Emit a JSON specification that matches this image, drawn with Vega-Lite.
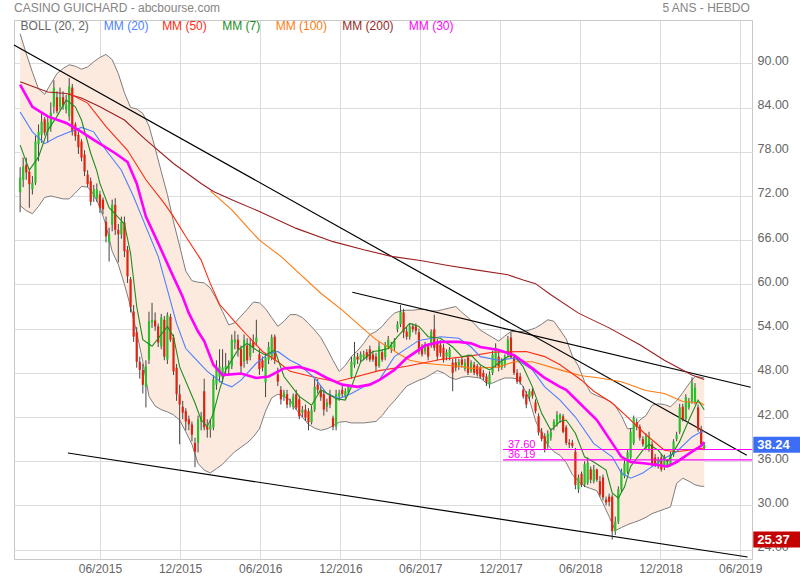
{
"$schema": "https://vega.github.io/schema/vega-lite/v6.json",
"width": 738, "height": 539,
"autosize": {"type": "none"},
"padding": {"left": 14, "top": 20, "right": 48, "bottom": 21},
"background": "white",
"config": {"view": {"stroke": "#c8c8c8", "strokeWidth": 1}, "font": "Liberation Sans", "text": {"font": "Liberation Sans"}, "scale": {"continuousPadding": 0}},
"datasets": {
"candles": [
{"d":"2014-12-01","o":72.5,"h":75.9,"l":69.8,"c":74.5},
{"d":"2014-12-08","o":74.2,"h":77.2,"l":73.2,"c":76.0},
{"d":"2014-12-15","o":76.2,"h":77.2,"l":74.2,"c":75.2},
{"d":"2014-12-22","o":75.3,"h":75.7,"l":70.4,"c":73.6},
{"d":"2014-12-29","o":72.9,"h":74.7,"l":72.2,"c":73.8},
{"d":"2015-01-05","o":73.8,"h":80.2,"l":73.5,"c":79.4},
{"d":"2015-01-12","o":79.0,"h":81.7,"l":76.7,"c":80.7},
{"d":"2015-01-19","o":80.3,"h":83.2,"l":79.2,"c":82.1},
{"d":"2015-01-26","o":82.4,"h":82.7,"l":80.2,"c":80.6},
{"d":"2015-02-02","o":80.7,"h":82.7,"l":79.2,"c":82.0},
{"d":"2015-02-09","o":81.4,"h":84.7,"l":80.7,"c":83.3},
{"d":"2015-02-16","o":84.1,"h":87.7,"l":83.2,"c":86.7},
{"d":"2015-02-23","o":85.4,"h":86.2,"l":83.2,"c":83.5},
{"d":"2015-03-02","o":84.1,"h":86.7,"l":83.7,"c":85.4},
{"d":"2015-03-09","o":85.4,"h":86.2,"l":83.7,"c":84.3},
{"d":"2015-03-16","o":83.7,"h":85.7,"l":83.2,"c":84.4},
{"d":"2015-03-23","o":82.8,"h":88.0,"l":82.2,"c":86.9},
{"d":"2015-03-30","o":86.7,"h":87.2,"l":80.2,"c":80.7},
{"d":"2015-04-06","o":81.7,"h":82.0,"l":79.5,"c":80.1},
{"d":"2015-04-13","o":80.3,"h":80.7,"l":77.7,"c":78.6},
{"d":"2015-04-20","o":79.4,"h":79.7,"l":76.7,"c":77.2},
{"d":"2015-04-27","o":77.6,"h":78.2,"l":74.7,"c":75.3},
{"d":"2015-05-04","o":74.9,"h":75.5,"l":73.2,"c":73.6},
{"d":"2015-05-11","o":74.0,"h":74.5,"l":70.7,"c":71.2},
{"d":"2015-05-18","o":71.9,"h":73.5,"l":71.2,"c":72.9},
{"d":"2015-05-25","o":71.6,"h":73.7,"l":71.2,"c":72.9},
{"d":"2015-06-01","o":72.2,"h":72.7,"l":69.7,"c":70.4},
{"d":"2015-06-08","o":71.5,"h":71.8,"l":69.5,"c":70.2},
{"d":"2015-06-15","o":68.5,"h":69.2,"l":65.7,"c":66.5},
{"d":"2015-06-22","o":65.7,"h":67.7,"l":63.1,"c":66.8},
{"d":"2015-06-29","o":68.1,"h":71.5,"l":67.2,"c":70.8},
{"d":"2015-07-06","o":70.8,"h":71.7,"l":66.7,"c":67.4},
{"d":"2015-07-13","o":67.4,"h":68.2,"l":63.0,"c":66.8},
{"d":"2015-07-20","o":66.8,"h":69.2,"l":66.2,"c":68.5},
{"d":"2015-07-27","o":68.4,"h":69.2,"l":63.7,"c":64.5},
{"d":"2015-08-03","o":64.7,"h":65.2,"l":60.2,"c":61.1},
{"d":"2015-08-10","o":60.7,"h":61.0,"l":56.2,"c":56.9},
{"d":"2015-08-17","o":56.3,"h":57.2,"l":52.2,"c":52.9},
{"d":"2015-08-24","o":53.5,"h":54.2,"l":48.7,"c":49.5},
{"d":"2015-08-31","o":49.5,"h":50.2,"l":47.2,"c":48.4},
{"d":"2015-09-07","o":48.4,"h":49.2,"l":45.2,"c":46.4},
{"d":"2015-09-14","o":46.1,"h":49.7,"l":43.3,"c":48.9},
{"d":"2015-09-21","o":49.8,"h":56.3,"l":49.2,"c":55.0},
{"d":"2015-09-28","o":54.8,"h":57.5,"l":54.1,"c":55.2},
{"d":"2015-10-05","o":55.1,"h":56.2,"l":53.7,"c":54.3},
{"d":"2015-10-12","o":54.3,"h":54.7,"l":51.5,"c":52.1},
{"d":"2015-10-19","o":51.6,"h":56.0,"l":51.2,"c":55.5},
{"d":"2015-10-26","o":55.2,"h":55.7,"l":49.7,"c":50.2},
{"d":"2015-11-02","o":49.8,"h":56.2,"l":49.2,"c":55.8},
{"d":"2015-11-09","o":55.6,"h":56.0,"l":52.2,"c":52.5},
{"d":"2015-11-16","o":52.8,"h":53.2,"l":47.7,"c":48.2},
{"d":"2015-11-23","o":48.7,"h":49.2,"l":44.2,"c":45.1},
{"d":"2015-11-30","o":45.1,"h":46.4,"l":38.3,"c":43.7},
{"d":"2015-12-07","o":43.4,"h":44.2,"l":41.7,"c":42.6},
{"d":"2015-12-14","o":42.8,"h":43.2,"l":40.2,"c":41.4},
{"d":"2015-12-21","o":41.7,"h":42.2,"l":40.2,"c":41.0},
{"d":"2015-12-28","o":41.0,"h":41.4,"l":38.7,"c":39.6},
{"d":"2016-01-04","o":38.5,"h":39.2,"l":35.2,"c":37.3},
{"d":"2016-01-11","o":38.5,"h":42.2,"l":37.2,"c":41.7},
{"d":"2016-01-18","o":41.4,"h":42.7,"l":40.2,"c":42.1},
{"d":"2016-01-25","o":45.5,"h":47.2,"l":40.2,"c":40.6},
{"d":"2016-02-01","o":40.7,"h":41.7,"l":39.2,"c":40.3},
{"d":"2016-02-08","o":40.3,"h":41.7,"l":39.2,"c":40.9},
{"d":"2016-02-15","o":40.6,"h":47.7,"l":40.2,"c":47.1},
{"d":"2016-02-22","o":46.4,"h":49.7,"l":45.7,"c":48.5},
{"d":"2016-02-29","o":47.5,"h":51.2,"l":46.7,"c":48.9},
{"d":"2016-03-07","o":47.4,"h":51.2,"l":46.7,"c":48.7},
{"d":"2016-03-14","o":48.5,"h":50.7,"l":47.7,"c":48.9},
{"d":"2016-03-21","o":48.5,"h":49.7,"l":47.7,"c":48.9},
{"d":"2016-03-28","o":48.9,"h":53.2,"l":48.5,"c":52.5},
{"d":"2016-04-04","o":52.1,"h":53.7,"l":51.2,"c":52.5},
{"d":"2016-04-11","o":52.5,"h":53.2,"l":50.2,"c":51.2},
{"d":"2016-04-18","o":51.2,"h":51.7,"l":47.7,"c":48.9},
{"d":"2016-04-25","o":49.5,"h":53.2,"l":48.7,"c":52.5},
{"d":"2016-05-02","o":51.7,"h":52.7,"l":49.2,"c":49.7},
{"d":"2016-05-09","o":50.2,"h":52.7,"l":49.7,"c":52.0},
{"d":"2016-05-16","o":52.2,"h":53.2,"l":50.7,"c":51.5},
{"d":"2016-05-23","o":52.1,"h":55.2,"l":51.7,"c":52.8},
{"d":"2016-05-30","o":50.5,"h":51.2,"l":47.7,"c":48.5},
{"d":"2016-06-06","o":49.7,"h":50.2,"l":48.2,"c":48.7},
{"d":"2016-06-13","o":46.7,"h":50.7,"l":44.7,"c":50.1},
{"d":"2016-06-20","o":49.8,"h":52.2,"l":49.2,"c":51.5},
{"d":"2016-06-27","o":50.1,"h":53.2,"l":49.7,"c":52.8},
{"d":"2016-07-04","o":52.9,"h":53.2,"l":49.2,"c":49.8},
{"d":"2016-07-11","o":47.8,"h":48.7,"l":46.2,"c":46.8},
{"d":"2016-07-18","o":45.7,"h":46.2,"l":43.7,"c":44.4},
{"d":"2016-07-25","o":44.7,"h":45.7,"l":44.2,"c":45.3},
{"d":"2016-08-01","o":45.1,"h":45.7,"l":43.2,"c":43.7},
{"d":"2016-08-08","o":43.7,"h":44.5,"l":43.3,"c":44.0},
{"d":"2016-08-15","o":43.4,"h":45.2,"l":43.0,"c":44.8},
{"d":"2016-08-22","o":45.1,"h":45.7,"l":43.0,"c":43.3},
{"d":"2016-08-29","o":44.4,"h":44.9,"l":41.7,"c":42.1},
{"d":"2016-09-05","o":42.6,"h":43.5,"l":42.0,"c":43.0},
{"d":"2016-09-12","o":43.0,"h":43.7,"l":41.5,"c":41.9},
{"d":"2016-09-19","o":42.8,"h":43.2,"l":40.2,"c":41.3},
{"d":"2016-09-26","o":41.3,"h":43.5,"l":41.0,"c":43.0},
{"d":"2016-10-03","o":43.0,"h":47.2,"l":42.7,"c":46.1},
{"d":"2016-10-10","o":46.4,"h":47.2,"l":45.2,"c":45.7},
{"d":"2016-10-17","o":45.7,"h":46.2,"l":44.2,"c":44.7},
{"d":"2016-10-24","o":45.1,"h":45.7,"l":42.2,"c":43.0},
{"d":"2016-10-31","o":43.4,"h":44.5,"l":42.7,"c":44.0},
{"d":"2016-11-07","o":45.1,"h":45.7,"l":43.2,"c":43.7},
{"d":"2016-11-14","o":41.9,"h":42.2,"l":40.2,"c":40.7},
{"d":"2016-11-21","o":40.7,"h":45.7,"l":40.2,"c":45.1},
{"d":"2016-11-28","o":44.8,"h":45.7,"l":44.2,"c":45.3},
{"d":"2016-12-05","o":45.7,"h":46.2,"l":44.7,"c":45.1},
{"d":"2016-12-12","o":44.9,"h":45.9,"l":44.5,"c":45.5},
{"d":"2016-12-19","o":45.3,"h":46.4,"l":45.0,"c":46.1},
{"d":"2016-12-26","o":47.5,"h":50.2,"l":47.2,"c":49.5},
{"d":"2017-01-02","o":49.1,"h":52.2,"l":48.7,"c":50.2},
{"d":"2017-01-09","o":50.2,"h":50.7,"l":49.2,"c":49.8},
{"d":"2017-01-16","o":49.8,"h":50.9,"l":49.4,"c":50.5},
{"d":"2017-01-23","o":50.1,"h":51.0,"l":49.7,"c":50.5},
{"d":"2017-01-30","o":50.8,"h":51.2,"l":49.7,"c":50.1},
{"d":"2017-02-06","o":51.2,"h":51.7,"l":49.5,"c":49.8},
{"d":"2017-02-13","o":50.5,"h":51.0,"l":49.5,"c":49.8},
{"d":"2017-02-20","o":50.2,"h":50.7,"l":48.2,"c":48.9},
{"d":"2017-02-27","o":48.9,"h":52.2,"l":48.7,"c":51.6},
{"d":"2017-03-06","o":50.8,"h":51.2,"l":49.5,"c":49.8},
{"d":"2017-03-13","o":50.1,"h":52.2,"l":49.7,"c":51.8},
{"d":"2017-03-20","o":51.6,"h":53.0,"l":51.2,"c":52.5},
{"d":"2017-03-27","o":51.2,"h":52.2,"l":50.7,"c":51.8},
{"d":"2017-04-03","o":51.4,"h":52.7,"l":51.0,"c":52.3},
{"d":"2017-04-10","o":53.9,"h":55.0,"l":53.5,"c":54.6},
{"d":"2017-04-17","o":54.6,"h":57.2,"l":54.2,"c":56.3},
{"d":"2017-04-24","o":56.2,"h":56.7,"l":52.7,"c":53.5},
{"d":"2017-05-01","o":53.6,"h":54.2,"l":52.5,"c":52.9},
{"d":"2017-05-08","o":52.9,"h":54.7,"l":52.5,"c":54.3},
{"d":"2017-05-15","o":54.3,"h":54.7,"l":53.5,"c":53.9},
{"d":"2017-05-22","o":54.3,"h":54.7,"l":53.2,"c":53.7},
{"d":"2017-05-29","o":53.5,"h":54.0,"l":50.5,"c":50.9},
{"d":"2017-06-05","o":51.4,"h":51.9,"l":50.2,"c":50.5},
{"d":"2017-06-12","o":50.9,"h":52.2,"l":50.5,"c":51.8},
{"d":"2017-06-19","o":51.6,"h":52.0,"l":49.7,"c":50.2},
{"d":"2017-06-26","o":51.8,"h":53.9,"l":51.4,"c":53.6},
{"d":"2017-07-03","o":53.9,"h":55.9,"l":51.0,"c":51.4},
{"d":"2017-07-10","o":52.1,"h":52.6,"l":49.7,"c":50.2},
{"d":"2017-07-17","o":51.8,"h":52.4,"l":50.2,"c":50.7},
{"d":"2017-07-24","o":51.4,"h":51.9,"l":49.4,"c":49.8},
{"d":"2017-07-31","o":50.2,"h":51.2,"l":49.7,"c":50.8},
{"d":"2017-08-07","o":50.1,"h":51.5,"l":49.7,"c":51.2},
{"d":"2017-08-14","o":49.4,"h":49.9,"l":45.5,"c":48.0},
{"d":"2017-08-21","o":49.4,"h":50.0,"l":48.2,"c":48.7},
{"d":"2017-08-28","o":48.9,"h":49.9,"l":48.4,"c":49.5},
{"d":"2017-09-04","o":49.8,"h":50.2,"l":48.7,"c":49.1},
{"d":"2017-09-11","o":48.5,"h":49.9,"l":48.2,"c":49.4},
{"d":"2017-09-18","o":50.1,"h":50.5,"l":47.7,"c":48.0},
{"d":"2017-09-25","o":48.2,"h":49.7,"l":48.0,"c":49.4},
{"d":"2017-10-02","o":49.1,"h":49.5,"l":47.7,"c":48.0},
{"d":"2017-10-09","o":48.9,"h":49.2,"l":47.5,"c":47.8},
{"d":"2017-10-16","o":48.7,"h":49.0,"l":47.2,"c":47.5},
{"d":"2017-10-23","o":48.0,"h":48.4,"l":47.0,"c":47.4},
{"d":"2017-10-30","o":47.5,"h":47.9,"l":46.2,"c":46.7},
{"d":"2017-11-06","o":46.4,"h":48.2,"l":45.9,"c":47.8},
{"d":"2017-11-13","o":48.0,"h":51.0,"l":47.7,"c":50.5},
{"d":"2017-11-20","o":49.1,"h":52.0,"l":48.7,"c":51.4},
{"d":"2017-11-27","o":50.2,"h":51.0,"l":48.2,"c":48.7},
{"d":"2017-12-04","o":48.7,"h":50.0,"l":48.4,"c":49.5},
{"d":"2017-12-11","o":49.1,"h":50.5,"l":48.7,"c":50.2},
{"d":"2017-12-18","o":50.5,"h":53.0,"l":50.2,"c":52.5},
{"d":"2017-12-25","o":52.8,"h":53.5,"l":49.9,"c":50.1},
{"d":"2018-01-01","o":50.2,"h":50.5,"l":47.7,"c":48.0},
{"d":"2018-01-08","o":48.0,"h":48.5,"l":46.5,"c":46.8},
{"d":"2018-01-15","o":47.5,"h":48.0,"l":46.4,"c":46.8},
{"d":"2018-01-22","o":45.7,"h":46.2,"l":44.5,"c":44.8},
{"d":"2018-01-29","o":45.1,"h":45.5,"l":43.2,"c":43.7},
{"d":"2018-02-05","o":44.7,"h":45.8,"l":44.2,"c":45.5},
{"d":"2018-02-12","o":45.5,"h":45.9,"l":44.5,"c":44.9},
{"d":"2018-02-19","o":44.0,"h":44.4,"l":42.5,"c":42.8},
{"d":"2018-02-26","o":42.1,"h":42.5,"l":39.5,"c":39.9},
{"d":"2018-03-05","o":40.0,"h":40.5,"l":38.7,"c":39.0},
{"d":"2018-03-12","o":39.4,"h":39.8,"l":37.2,"c":37.6},
{"d":"2018-03-19","o":38.3,"h":40.2,"l":37.7,"c":39.7},
{"d":"2018-03-26","o":39.2,"h":40.5,"l":38.8,"c":40.0},
{"d":"2018-04-02","o":40.7,"h":41.7,"l":40.2,"c":41.4},
{"d":"2018-04-09","o":41.0,"h":42.8,"l":40.7,"c":42.3},
{"d":"2018-04-16","o":41.7,"h":42.5,"l":41.2,"c":42.3},
{"d":"2018-04-23","o":42.1,"h":42.4,"l":39.8,"c":40.0},
{"d":"2018-04-30","o":40.6,"h":40.9,"l":38.2,"c":38.5},
{"d":"2018-05-07","o":38.5,"h":39.0,"l":37.8,"c":38.3},
{"d":"2018-05-14","o":38.5,"h":38.9,"l":37.8,"c":38.1},
{"d":"2018-05-21","o":37.3,"h":37.8,"l":32.2,"c":32.8},
{"d":"2018-05-28","o":32.2,"h":34.2,"l":31.7,"c":33.8},
{"d":"2018-06-04","o":34.3,"h":34.6,"l":32.5,"c":32.8},
{"d":"2018-06-11","o":32.8,"h":36.0,"l":32.5,"c":35.6},
{"d":"2018-06-18","o":33.1,"h":36.5,"l":32.8,"c":35.8},
{"d":"2018-06-25","o":34.9,"h":35.3,"l":33.0,"c":33.5},
{"d":"2018-07-02","o":33.3,"h":35.5,"l":33.0,"c":34.9},
{"d":"2018-07-09","o":34.9,"h":35.0,"l":33.2,"c":33.5},
{"d":"2018-07-16","o":33.3,"h":34.0,"l":31.2,"c":31.5},
{"d":"2018-07-23","o":33.8,"h":34.2,"l":30.7,"c":31.1},
{"d":"2018-07-30","o":30.8,"h":31.2,"l":30.0,"c":30.4},
{"d":"2018-08-06","o":31.2,"h":31.6,"l":29.9,"c":30.5},
{"d":"2018-08-13","o":31.2,"h":31.5,"l":25.37,"c":26.5},
{"d":"2018-08-20","o":26.5,"h":28.5,"l":26.0,"c":27.8},
{"d":"2018-08-27","o":27.8,"h":32.6,"l":27.5,"c":32.2},
{"d":"2018-09-03","o":32.2,"h":35.0,"l":31.8,"c":34.6},
{"d":"2018-09-10","o":34.0,"h":36.2,"l":33.7,"c":35.7},
{"d":"2018-09-17","o":34.6,"h":37.5,"l":34.3,"c":37.2},
{"d":"2018-09-24","o":36.5,"h":40.5,"l":36.2,"c":40.0},
{"d":"2018-10-01","o":38.5,"h":42.2,"l":38.2,"c":41.9},
{"d":"2018-10-08","o":41.3,"h":41.8,"l":40.2,"c":40.7},
{"d":"2018-10-15","o":40.7,"h":41.0,"l":38.8,"c":39.2},
{"d":"2018-10-22","o":39.0,"h":39.4,"l":38.0,"c":38.3},
{"d":"2018-10-29","o":37.8,"h":39.8,"l":37.5,"c":39.4},
{"d":"2018-11-05","o":37.6,"h":40.0,"l":37.3,"c":39.4},
{"d":"2018-11-12","o":38.3,"h":38.7,"l":35.2,"c":35.6},
{"d":"2018-11-19","o":36.5,"h":37.0,"l":35.2,"c":35.6},
{"d":"2018-11-26","o":35.3,"h":36.6,"l":35.0,"c":36.2},
{"d":"2018-12-03","o":36.5,"h":37.0,"l":34.6,"c":34.9},
{"d":"2018-12-10","o":35.2,"h":36.9,"l":34.8,"c":36.5},
{"d":"2018-12-17","o":35.5,"h":36.3,"l":35.2,"c":35.8},
{"d":"2018-12-24","o":35.6,"h":37.3,"l":35.3,"c":36.9},
{"d":"2018-12-31","o":36.9,"h":39.0,"l":36.6,"c":38.7},
{"d":"2019-01-07","o":39.0,"h":40.0,"l":38.7,"c":39.6},
{"d":"2019-01-14","o":40.0,"h":43.8,"l":39.7,"c":43.3},
{"d":"2019-01-21","o":43.4,"h":43.8,"l":41.4,"c":41.7},
{"d":"2019-01-28","o":41.7,"h":45.1,"l":41.4,"c":44.7},
{"d":"2019-02-04","o":43.3,"h":44.6,"l":43.0,"c":44.1},
{"d":"2019-02-11","o":44.1,"h":47.4,"l":43.8,"c":46.7},
{"d":"2019-02-18","o":44.0,"h":46.6,"l":43.7,"c":46.0},
{"d":"2019-02-25","o":43.3,"h":43.7,"l":40.0,"c":40.3},
{"d":"2019-03-04","o":40.3,"h":40.8,"l":38.0,"c":38.3},
{"d":"2019-03-11","o":37.8,"h":38.6,"l":37.5,"c":38.24}
],
"boll": [
{"d":"2014-12-01","u":94.0,"lo":70.7},{"d":"2014-12-15","u":91.3,"lo":70.0},{"d":"2014-12-29","u":88.8,"lo":69.6},
{"d":"2015-01-12","u":86.5,"lo":70.6},{"d":"2015-01-26","u":85.8,"lo":71.8},{"d":"2015-02-09","u":87.2,"lo":72.0},
{"d":"2015-02-23","u":88.6,"lo":71.8},{"d":"2015-03-09","u":89.3,"lo":71.6},{"d":"2015-03-23","u":89.8,"lo":71.6},
{"d":"2015-04-06","u":89.6,"lo":72.4},{"d":"2015-04-20","u":89.2,"lo":73.3},{"d":"2015-05-04","u":89.5,"lo":73.2},
{"d":"2015-05-18","u":90.2,"lo":72.2},{"d":"2015-06-01","u":90.8,"lo":70.5},{"d":"2015-06-15","u":91.2,"lo":68.0},
{"d":"2015-06-29","u":90.5,"lo":64.5},{"d":"2015-07-13","u":88.6,"lo":62.7},{"d":"2015-07-27","u":86.0,"lo":60.0},
{"d":"2015-08-10","u":84.0,"lo":57.0},{"d":"2015-08-24","u":83.8,"lo":53.5},{"d":"2015-09-07","u":83.2,"lo":49.5},
{"d":"2015-09-21","u":81.5,"lo":44.8},{"d":"2015-10-05","u":78.5,"lo":43.5},{"d":"2015-10-19","u":75.3,"lo":43.0},
{"d":"2015-11-02","u":72.2,"lo":42.7},{"d":"2015-11-16","u":68.5,"lo":42.3},{"d":"2015-11-30","u":65.2,"lo":41.6},
{"d":"2015-12-14","u":61.8,"lo":40.0},{"d":"2015-12-28","u":60.5,"lo":38.3},{"d":"2016-01-11","u":60.3,"lo":35.7},
{"d":"2016-01-25","u":60.2,"lo":34.8},{"d":"2016-02-08","u":59.5,"lo":34.4},{"d":"2016-02-22","u":58.0,"lo":35.0},
{"d":"2016-03-07","u":56.3,"lo":35.6},{"d":"2016-03-21","u":54.5,"lo":36.5},{"d":"2016-04-04","u":54.8,"lo":37.3},
{"d":"2016-04-18","u":55.7,"lo":37.9},{"d":"2016-05-02","u":56.6,"lo":38.5},{"d":"2016-05-16","u":57.6,"lo":39.3},
{"d":"2016-05-30","u":57.5,"lo":40.4},{"d":"2016-06-13","u":56.7,"lo":42.8},{"d":"2016-06-27","u":55.5,"lo":44.6},
{"d":"2016-07-11","u":54.3,"lo":45.1},{"d":"2016-07-25","u":55.0,"lo":44.8},{"d":"2016-08-08","u":55.9,"lo":44.3},
{"d":"2016-08-22","u":55.9,"lo":43.0},{"d":"2016-09-05","u":55.5,"lo":42.0},{"d":"2016-09-19","u":54.7,"lo":41.0},
{"d":"2016-10-03","u":53.8,"lo":40.5},{"d":"2016-10-17","u":52.8,"lo":40.2},{"d":"2016-10-31","u":51.3,"lo":40.4},
{"d":"2016-11-14","u":49.7,"lo":40.8},{"d":"2016-11-28","u":48.2,"lo":41.3},{"d":"2016-12-12","u":49.0,"lo":41.4},
{"d":"2016-12-26","u":50.2,"lo":41.2},{"d":"2017-01-09","u":51.0,"lo":41.2},{"d":"2017-01-23","u":52.0,"lo":41.2},
{"d":"2017-02-06","u":53.2,"lo":41.3},{"d":"2017-02-20","u":53.6,"lo":41.4},{"d":"2017-03-06","u":54.3,"lo":42.2},
{"d":"2017-03-20","u":55.3,"lo":43.3},{"d":"2017-04-03","u":56.1,"lo":44.2},{"d":"2017-04-17","u":56.4,"lo":45.2},
{"d":"2017-05-01","u":56.5,"lo":46.2},{"d":"2017-05-15","u":56.5,"lo":46.6},{"d":"2017-05-29","u":56.6,"lo":47.0},
{"d":"2017-06-12","u":56.6,"lo":47.3},{"d":"2017-06-26","u":56.4,"lo":47.8},{"d":"2017-07-10","u":56.4,"lo":48.3},
{"d":"2017-07-24","u":56.6,"lo":48.0},{"d":"2017-08-07","u":56.8,"lo":47.4},{"d":"2017-08-21","u":57.0,"lo":47.1},
{"d":"2017-09-04","u":56.2,"lo":47.4},{"d":"2017-09-18","u":55.5,"lo":47.5},{"d":"2017-10-02","u":54.7,"lo":47.4},
{"d":"2017-10-16","u":53.8,"lo":47.3},{"d":"2017-10-30","u":53.3,"lo":46.6},{"d":"2017-11-13","u":52.8,"lo":46.6},
{"d":"2017-11-27","u":52.3,"lo":47.0},{"d":"2017-12-11","u":53.0,"lo":47.3},{"d":"2017-12-25","u":53.6,"lo":47.3},
{"d":"2018-01-08","u":53.6,"lo":47.2},{"d":"2018-01-22","u":53.6,"lo":46.1},{"d":"2018-02-05","u":53.8,"lo":44.4},
{"d":"2018-02-19","u":54.1,"lo":41.5},{"d":"2018-03-05","u":54.6,"lo":39.8},{"d":"2018-03-19","u":55.2,"lo":38.2},
{"d":"2018-04-02","u":55.0,"lo":37.3},{"d":"2018-04-16","u":53.8,"lo":36.8},{"d":"2018-04-30","u":52.6,"lo":35.8},
{"d":"2018-05-14","u":50.3,"lo":34.2},{"d":"2018-05-28","u":48.9,"lo":33.3},{"d":"2018-06-11","u":46.8,"lo":32.6},
{"d":"2018-06-25","u":45.3,"lo":32.3},{"d":"2018-07-09","u":44.9,"lo":32.0},{"d":"2018-07-23","u":44.6,"lo":30.3},
{"d":"2018-08-06","u":44.2,"lo":28.5},{"d":"2018-08-20","u":43.5,"lo":26.6},{"d":"2018-09-03","u":42.2,"lo":27.0},
{"d":"2018-09-17","u":40.4,"lo":27.4},{"d":"2018-10-01","u":40.5,"lo":27.7},{"d":"2018-10-15","u":41.6,"lo":28.0},
{"d":"2018-10-29","u":42.2,"lo":28.4},{"d":"2018-11-12","u":43.6,"lo":28.9},{"d":"2018-11-26","u":43.8,"lo":29.2},
{"d":"2018-12-10","u":43.7,"lo":29.5},{"d":"2018-12-24","u":43.4,"lo":29.8},{"d":"2019-01-07","u":44.2,"lo":33.0},
{"d":"2019-01-21","u":45.3,"lo":33.7},{"d":"2019-02-04","u":46.5,"lo":33.3},{"d":"2019-02-18","u":47.5,"lo":32.8},
{"d":"2019-03-04","u":47.4,"lo":32.6},{"d":"2019-03-11","u":47.3,"lo":32.6}
],
"ma": [
{"s":"MM (200)","d":"2014-12-01","v":87.5},{"s":"MM (200)","d":"2015-02-02","v":86.1},{"s":"MM (200)","d":"2015-03-16","v":85.9},{"s":"MM (200)","d":"2015-04-20","v":85.3},{"s":"MM (200)","d":"2015-06-01","v":84.1},{"s":"MM (200)","d":"2015-07-27","v":82.3},{"s":"MM (200)","d":"2015-09-14","v":79.6},{"s":"MM (200)","d":"2015-11-16","v":76.4},{"s":"MM (200)","d":"2016-01-18","v":73.7},{"s":"MM (200)","d":"2016-02-15","v":72.6},{"s":"MM (200)","d":"2016-03-28","v":71.5},{"s":"MM (200)","d":"2016-05-30","v":69.9},{"s":"MM (200)","d":"2016-08-22","v":67.6},{"s":"MM (200)","d":"2016-11-14","v":65.8},{"s":"MM (200)","d":"2017-01-23","v":64.7},{"s":"MM (200)","d":"2017-03-27","v":63.8},{"s":"MM (200)","d":"2017-06-05","v":63.2},{"s":"MM (200)","d":"2017-07-31","v":62.6},{"s":"MM (200)","d":"2017-10-02","v":62.0},{"s":"MM (200)","d":"2017-12-18","v":61.3},{"s":"MM (200)","d":"2018-01-22","v":60.6},{"s":"MM (200)","d":"2018-02-19","v":60.1},{"s":"MM (200)","d":"2018-03-26","v":58.6},{"s":"MM (200)","d":"2018-05-28","v":56.1},{"s":"MM (200)","d":"2018-08-06","v":54.1},{"s":"MM (200)","d":"2018-10-15","v":51.8},{"s":"MM (200)","d":"2018-12-10","v":49.7},{"s":"MM (200)","d":"2019-02-11","v":47.7},{"s":"MM (200)","d":"2019-03-11","v":47.1},
{"s":"MM (100)","d":"2016-02-08","v":72.7},{"s":"MM (100)","d":"2016-03-28","v":70.1},{"s":"MM (100)","d":"2016-05-02","v":67.8},{"s":"MM (100)","d":"2016-05-30","v":66.0},{"s":"MM (100)","d":"2016-07-18","v":63.8},{"s":"MM (100)","d":"2016-08-29","v":61.5},{"s":"MM (100)","d":"2016-10-17","v":58.8},{"s":"MM (100)","d":"2016-12-05","v":56.5},{"s":"MM (100)","d":"2017-01-16","v":54.3},{"s":"MM (100)","d":"2017-02-20","v":52.5},{"s":"MM (100)","d":"2017-04-10","v":50.7},{"s":"MM (100)","d":"2017-05-08","v":49.7},{"s":"MM (100)","d":"2017-06-12","v":49.3},{"s":"MM (100)","d":"2017-07-17","v":49.1},{"s":"MM (100)","d":"2017-08-28","v":48.9},{"s":"MM (100)","d":"2017-09-25","v":48.6},{"s":"MM (100)","d":"2017-11-27","v":48.8},{"s":"MM (100)","d":"2018-01-01","v":49.5},{"s":"MM (100)","d":"2018-02-12","v":49.5},{"s":"MM (100)","d":"2018-04-16","v":48.4},{"s":"MM (100)","d":"2018-06-04","v":47.6},{"s":"MM (100)","d":"2018-07-16","v":47.3},{"s":"MM (100)","d":"2018-09-03","v":46.8},{"s":"MM (100)","d":"2018-10-29","v":45.6},{"s":"MM (100)","d":"2018-12-10","v":45.2},{"s":"MM (100)","d":"2019-01-21","v":44.1},{"s":"MM (100)","d":"2019-03-04","v":43.9},{"s":"MM (100)","d":"2019-03-11","v":43.6},
{"s":"MM (50)","d":"2015-03-23","v":85.9},{"s":"MM (50)","d":"2015-05-04","v":84.6},{"s":"MM (50)","d":"2015-06-15","v":81.4},{"s":"MM (50)","d":"2015-08-03","v":78.2},{"s":"MM (50)","d":"2015-09-14","v":74.2},{"s":"MM (50)","d":"2015-10-26","v":71.0},{"s":"MM (50)","d":"2015-11-16","v":69.2},{"s":"MM (50)","d":"2015-12-14","v":66.5},{"s":"MM (50)","d":"2016-01-18","v":63.3},{"s":"MM (50)","d":"2016-02-08","v":60.1},{"s":"MM (50)","d":"2016-02-29","v":57.3},{"s":"MM (50)","d":"2016-04-04","v":54.9},{"s":"MM (50)","d":"2016-05-02","v":53.1},{"s":"MM (50)","d":"2016-06-06","v":50.9},{"s":"MM (50)","d":"2016-07-11","v":49.5},{"s":"MM (50)","d":"2016-08-08","v":48.2},{"s":"MM (50)","d":"2016-10-10","v":47.3},{"s":"MM (50)","d":"2016-11-21","v":46.8},{"s":"MM (50)","d":"2016-12-26","v":47.3},{"s":"MM (50)","d":"2017-02-27","v":48.3},{"s":"MM (50)","d":"2017-05-01","v":48.9},{"s":"MM (50)","d":"2017-07-17","v":49.8},{"s":"MM (50)","d":"2017-09-25","v":50.3},{"s":"MM (50)","d":"2017-11-13","v":50.8},{"s":"MM (50)","d":"2018-01-29","v":50.9},{"s":"MM (50)","d":"2018-03-12","v":50.2},{"s":"MM (50)","d":"2018-04-16","v":49.1},{"s":"MM (50)","d":"2018-06-04","v":47.0},{"s":"MM (50)","d":"2018-07-02","v":45.5},{"s":"MM (50)","d":"2018-08-13","v":43.9},{"s":"MM (50)","d":"2018-09-17","v":42.0},{"s":"MM (50)","d":"2018-10-29","v":39.6},{"s":"MM (50)","d":"2018-12-10","v":37.5},{"s":"MM (50)","d":"2019-01-07","v":37.3},{"s":"MM (50)","d":"2019-03-11","v":37.8},
{"s":"MM (20)","d":"2014-12-01","v":83.4},{"s":"MM (20)","d":"2014-12-29","v":80.7},{"s":"MM (20)","d":"2015-01-26","v":79.1},{"s":"MM (20)","d":"2015-02-23","v":80.0},{"s":"MM (20)","d":"2015-03-16","v":80.5},{"s":"MM (20)","d":"2015-04-20","v":81.3},{"s":"MM (20)","d":"2015-05-18","v":80.7},{"s":"MM (20)","d":"2015-06-15","v":78.2},{"s":"MM (20)","d":"2015-07-20","v":75.5},{"s":"MM (20)","d":"2015-08-17","v":71.9},{"s":"MM (20)","d":"2015-09-14","v":67.8},{"s":"MM (20)","d":"2015-10-12","v":63.8},{"s":"MM (20)","d":"2015-11-02","v":59.3},{"s":"MM (20)","d":"2015-11-23","v":54.7},{"s":"MM (20)","d":"2015-12-14","v":51.3},{"s":"MM (20)","d":"2015-12-28","v":50.4},{"s":"MM (20)","d":"2016-02-01","v":48.2},{"s":"MM (20)","d":"2016-03-07","v":46.6},{"s":"MM (20)","d":"2016-03-28","v":46.1},{"s":"MM (20)","d":"2016-04-18","v":47.0},{"s":"MM (20)","d":"2016-05-23","v":49.3},{"s":"MM (20)","d":"2016-06-20","v":50.6},{"s":"MM (20)","d":"2016-07-11","v":50.9},{"s":"MM (20)","d":"2016-08-08","v":49.7},{"s":"MM (20)","d":"2016-08-29","v":49.1},{"s":"MM (20)","d":"2016-10-03","v":47.3},{"s":"MM (20)","d":"2016-10-31","v":45.2},{"s":"MM (20)","d":"2016-11-28","v":44.5},{"s":"MM (20)","d":"2016-12-26","v":45.2},{"s":"MM (20)","d":"2017-01-23","v":46.1},{"s":"MM (20)","d":"2017-02-27","v":47.0},{"s":"MM (20)","d":"2017-04-03","v":50.2},{"s":"MM (20)","d":"2017-05-29","v":52.4},{"s":"MM (20)","d":"2017-07-17","v":52.9},{"s":"MM (20)","d":"2017-08-28","v":52.7},{"s":"MM (20)","d":"2017-09-25","v":51.5},{"s":"MM (20)","d":"2017-10-16","v":50.2},{"s":"MM (20)","d":"2017-11-27","v":49.7},{"s":"MM (20)","d":"2018-01-01","v":50.0},{"s":"MM (20)","d":"2018-02-12","v":48.4},{"s":"MM (20)","d":"2018-03-12","v":46.1},{"s":"MM (20)","d":"2018-04-16","v":44.3},{"s":"MM (20)","d":"2018-05-21","v":42.0},{"s":"MM (20)","d":"2018-07-02","v":38.4},{"s":"MM (20)","d":"2018-08-13","v":36.6},{"s":"MM (20)","d":"2018-09-03","v":34.4},{"s":"MM (20)","d":"2018-09-24","v":33.7},{"s":"MM (20)","d":"2018-10-22","v":34.4},{"s":"MM (20)","d":"2018-11-05","v":35.0},{"s":"MM (20)","d":"2018-12-10","v":36.4},{"s":"MM (20)","d":"2019-01-07","v":37.3},{"s":"MM (20)","d":"2019-02-11","v":39.3},{"s":"MM (20)","d":"2019-03-04","v":40.0},{"s":"MM (20)","d":"2019-03-11","v":40.0},
{"s":"MM (7)","d":"2014-12-01","v":78.9},{"s":"MM (7)","d":"2014-12-22","v":75.5},{"s":"MM (7)","d":"2015-01-12","v":77.3},{"s":"MM (7)","d":"2015-02-02","v":80.9},{"s":"MM (7)","d":"2015-02-23","v":82.8},{"s":"MM (7)","d":"2015-03-16","v":85.0},{"s":"MM (7)","d":"2015-04-06","v":84.1},{"s":"MM (7)","d":"2015-04-20","v":82.3},{"s":"MM (7)","d":"2015-05-11","v":77.8},{"s":"MM (7)","d":"2015-05-25","v":75.4},{"s":"MM (7)","d":"2015-06-01","v":73.7},{"s":"MM (7)","d":"2015-06-22","v":70.4},{"s":"MM (7)","d":"2015-07-27","v":68.2},{"s":"MM (7)","d":"2015-08-10","v":64.2},{"s":"MM (7)","d":"2015-08-24","v":57.0},{"s":"MM (7)","d":"2015-09-07","v":52.5},{"s":"MM (7)","d":"2015-09-28","v":51.6},{"s":"MM (7)","d":"2015-11-02","v":54.3},{"s":"MM (7)","d":"2015-11-16","v":52.9},{"s":"MM (7)","d":"2015-11-30","v":48.8},{"s":"MM (7)","d":"2016-01-04","v":43.9},{"s":"MM (7)","d":"2016-01-18","v":41.6},{"s":"MM (7)","d":"2016-02-01","v":40.7},{"s":"MM (7)","d":"2016-02-15","v":42.5},{"s":"MM (7)","d":"2016-02-29","v":45.7},{"s":"MM (7)","d":"2016-03-14","v":48.4},{"s":"MM (7)","d":"2016-04-11","v":51.1},{"s":"MM (7)","d":"2016-05-02","v":52.0},{"s":"MM (7)","d":"2016-05-23","v":51.1},{"s":"MM (7)","d":"2016-06-13","v":50.4},{"s":"MM (7)","d":"2016-07-04","v":51.1},{"s":"MM (7)","d":"2016-07-25","v":47.5},{"s":"MM (7)","d":"2016-08-29","v":44.8},{"s":"MM (7)","d":"2016-09-26","v":43.6},{"s":"MM (7)","d":"2016-10-17","v":45.7},{"s":"MM (7)","d":"2016-11-21","v":44.5},{"s":"MM (7)","d":"2016-12-12","v":44.3},{"s":"MM (7)","d":"2016-12-26","v":46.1},{"s":"MM (7)","d":"2017-01-16","v":49.5},{"s":"MM (7)","d":"2017-02-13","v":50.9},{"s":"MM (7)","d":"2017-02-27","v":51.0},{"s":"MM (7)","d":"2017-03-20","v":51.3},{"s":"MM (7)","d":"2017-04-10","v":52.9},{"s":"MM (7)","d":"2017-05-08","v":54.7},{"s":"MM (7)","d":"2017-05-29","v":54.3},{"s":"MM (7)","d":"2017-06-19","v":52.9},{"s":"MM (7)","d":"2017-07-17","v":52.7},{"s":"MM (7)","d":"2017-08-14","v":51.5},{"s":"MM (7)","d":"2017-09-04","v":50.2},{"s":"MM (7)","d":"2017-09-25","v":50.4},{"s":"MM (7)","d":"2017-10-16","v":49.1},{"s":"MM (7)","d":"2017-11-06","v":48.4},{"s":"MM (7)","d":"2017-11-27","v":49.3},{"s":"MM (7)","d":"2017-12-18","v":50.2},{"s":"MM (7)","d":"2018-01-01","v":50.4},{"s":"MM (7)","d":"2018-01-22","v":48.8},{"s":"MM (7)","d":"2018-02-12","v":46.1},{"s":"MM (7)","d":"2018-03-05","v":42.5},{"s":"MM (7)","d":"2018-03-26","v":40.2},{"s":"MM (7)","d":"2018-04-16","v":41.4},{"s":"MM (7)","d":"2018-04-30","v":41.6},{"s":"MM (7)","d":"2018-05-21","v":39.8},{"s":"MM (7)","d":"2018-06-11","v":36.6},{"s":"MM (7)","d":"2018-07-02","v":35.9},{"s":"MM (7)","d":"2018-07-30","v":34.8},{"s":"MM (7)","d":"2018-08-13","v":31.7},{"s":"MM (7)","d":"2018-08-27","v":31.0},{"s":"MM (7)","d":"2018-09-10","v":32.5},{"s":"MM (7)","d":"2018-09-24","v":35.3},{"s":"MM (7)","d":"2018-10-22","v":37.5},{"s":"MM (7)","d":"2018-11-05","v":38.3},{"s":"MM (7)","d":"2018-11-26","v":37.5},{"s":"MM (7)","d":"2018-12-17","v":35.9},{"s":"MM (7)","d":"2019-01-14","v":38.7},{"s":"MM (7)","d":"2019-02-04","v":41.6},{"s":"MM (7)","d":"2019-02-25","v":44.3},{"s":"MM (7)","d":"2019-03-11","v":43.0}
],
"ma30": [
{"d":"2014-12-01","v":87.1},{"d":"2014-12-29","v":84.1},{"d":"2015-02-02","v":82.8},{"d":"2015-03-16","v":81.9},{"d":"2015-04-20","v":80.7},{"d":"2015-05-18","v":79.6},{"d":"2015-07-06","v":77.8},{"d":"2015-08-03","v":76.6},{"d":"2015-08-24","v":73.7},{"d":"2015-09-14","v":69.2},{"d":"2015-10-12","v":65.6},{"d":"2015-11-09","v":61.9},{"d":"2015-12-07","v":58.3},{"d":"2015-12-21","v":56.1},{"d":"2016-01-11","v":53.6},{"d":"2016-01-25","v":52.3},{"d":"2016-02-15","v":49.1},{"d":"2016-03-07","v":47.7},{"d":"2016-04-18","v":47.9},{"d":"2016-05-23","v":47.3},{"d":"2016-06-20","v":47.5},{"d":"2016-07-25","v":48.6},{"d":"2016-08-29","v":48.8},{"d":"2016-10-03","v":48.2},{"d":"2016-10-31","v":47.3},{"d":"2016-12-05","v":46.4},{"d":"2017-01-09","v":46.1},{"d":"2017-02-06","v":46.4},{"d":"2017-02-27","v":47.0},{"d":"2017-04-03","v":48.4},{"d":"2017-05-01","v":50.0},{"d":"2017-06-12","v":51.7},{"d":"2017-07-17","v":52.2},{"d":"2017-08-28","v":52.2},{"d":"2017-09-25","v":52.0},{"d":"2017-10-16","v":51.5},{"d":"2017-11-27","v":51.1},{"d":"2018-01-01","v":50.4},{"d":"2018-02-12","v":48.6},{"d":"2018-03-12","v":47.3},{"d":"2018-04-16","v":46.1},{"d":"2018-04-30","v":45.7},{"d":"2018-07-09","v":41.6},{"d":"2018-09-03","v":36.6},{"d":"2018-09-24","v":35.9},{"d":"2018-10-29","v":35.7},{"d":"2018-12-17","v":35.3},{"d":"2019-01-07","v":35.9},{"d":"2019-02-11","v":37.3},{"d":"2019-03-04","v":38.1},{"d":"2019-03-11","v":38.6}
],
"trend": [
{"g":"a","d":"2014-11-17","v":92.48},{"g":"a","d":"2019-06-16","v":36.82},
{"g":"b","d":"2016-12-28","v":58.93},{"g":"b","d":"2019-06-25","v":46.04},
{"g":"c","d":"2015-03-20","v":37.12},{"g":"c","d":"2019-06-18","v":23.01}
],
"levels": [{"v":37.60,"t":"37.60"},{"v":36.19,"t":"36.19"}],
"prices": [{"p":38.24,"t":"38.24","k":"last"},{"p":25.37,"t":"25.37","k":"low"}]
},
"layer": [
{"data":{"name":"boll"},"mark":{"type":"area","color":"#fdeadf","opacity":1},
 "encoding":{
  "x":{"field":"d","type":"temporal","title":null,
   "scale":{"domain":[{"year":2014,"month":11,"date":17,"utc":true},{"year":2019,"month":6,"date":28,"utc":true}],"padding":0},
   "axis":{"values":[{"year":2015,"month":6,"date":1,"utc":true},{"year":2015,"month":12,"date":1,"utc":true},{"year":2016,"month":6,"date":1,"utc":true},{"year":2016,"month":12,"date":1,"utc":true},{"year":2017,"month":6,"date":1,"utc":true},{"year":2017,"month":12,"date":1,"utc":true},{"year":2018,"month":6,"date":1,"utc":true},{"year":2018,"month":12,"date":1,"utc":true},{"year":2019,"month":6,"date":1,"utc":true}],
    "labelExpr":"utcFormat(datum.value, '%m/%Y')","grid":true,"gridColor":"#dcdcdc","domain":false,"ticks":false,"labelPadding":4,"labelFontSize":12,"labelColor":"#666666","labelFont":"Liberation Sans","labelOverlap":false,"labelBound":false}},
  "y":{"field":"lo","type":"quantitative","title":null,
   "scale":{"domain":[22.74,95.875],"nice":false,"zero":false,"padding":0},
   "axis":{"orient":"right","values":[24,30,36,42,48,54,60,66,72,78,84,90],"format":".2f","grid":true,"gridColor":"#dcdcdc","domain":false,"ticks":false,"labelPadding":5,"labelFontSize":12.5,"labelColor":"#666666","labelFont":"Liberation Sans","labelOffset":-3,"labelOverlap":false,"labelBound":false}},
  "y2":{"field":"u"}}},
{"data":{"name":"boll"},"mark":{"type":"line","color":"#7d7d7d","strokeWidth":1},
 "encoding":{"x":{"field":"d","type":"temporal","title":null},"y":{"field":"u","type":"quantitative","title":null}}},
{"data":{"name":"boll"},"mark":{"type":"line","color":"#7d7d7d","strokeWidth":1},
 "encoding":{"x":{"field":"d","type":"temporal","title":null},"y":{"field":"lo","type":"quantitative","title":null}}},
{"data":{"name":"trend"},"mark":{"type":"line","color":"#000000","strokeWidth":1.2},
 "encoding":{"x":{"field":"d","type":"temporal","title":null},"y":{"field":"v","type":"quantitative","title":null},"detail":{"field":"g"}}},
{"data":{"name":"candles"},"mark":{"type":"rule","color":"#444444","strokeWidth":1},
 "encoding":{"x":{"field":"d","type":"temporal","title":null},"y":{"field":"l","type":"quantitative","title":null},"y2":{"field":"h"}}},
{"data":{"name":"candles"},"mark":{"type":"bar","width":2.2},
 "encoding":{"x":{"field":"d","type":"temporal","title":null},"y":{"field":"o","type":"quantitative","title":null},"y2":{"field":"c"},
  "color":{"condition":{"test":"datum.c >= datum.o","value":"#2cbf2c"},"value":"#dc2412"}}},
{"data":{"name":"ma"},"mark":{"type":"line","strokeWidth":1.1},
 "encoding":{"x":{"field":"d","type":"temporal","title":null},"y":{"field":"v","type":"quantitative","title":null},
  "color":{"field":"s","type":"nominal","legend":null,"scale":{"domain":["MM (200)","MM (100)","MM (50)","MM (20)","MM (7)"],"range":["#9a1f1f","#ff7a10","#ff2b12","#4d7fff","#1d8c1d"]}}}},
{"data":{"name":"ma30"},"mark":{"type":"line","strokeWidth":2.6,"color":"#ff00ff"},
 "encoding":{"x":{"field":"d","type":"temporal","title":null},"y":{"field":"v","type":"quantitative","title":null}}},
{"data":{"name":"levels"},"mark":{"type":"rule","color":"#ff00ff","strokeWidth":1.2},
 "encoding":{"x":{"datum":{"year":2017,"month":12,"date":7,"utc":true},"type":"temporal"},"x2":{"datum":{"year":2019,"month":6,"date":28,"utc":true}},"y":{"field":"v","type":"quantitative","title":null}}},
{"data":{"name":"levels"},"mark":{"type":"text","color":"#ff00ff","fontSize":11,"align":"left","baseline":"alphabetic","dy":-1.5,"font":"Liberation Sans"},
 "encoding":{"x":{"datum":{"year":2017,"month":12,"date":18,"utc":true},"type":"temporal"},"y":{"field":"v","type":"quantitative","title":null},"text":{"field":"t"}}},
{"data":{"name":"prices"},"mark":{"type":"bar","height":16},
 "encoding":{"x":{"datum":{"year":2019,"month":7,"date":1,"utc":true},"type":"temporal"},"x2":{"datum":{"year":2019,"month":10,"date":25,"utc":true}},"y":{"field":"p","type":"quantitative","title":null},
  "color":{"condition":{"test":"datum.k == 'last'","value":"#3b6ef5"},"value":"#c40000"}}},
{"data":{"name":"prices"},"mark":{"type":"text","color":"white","fontSize":13,"fontWeight":"bold","align":"left","baseline":"middle","font":"Liberation Sans"},
 "encoding":{"x":{"datum":{"year":2019,"month":7,"date":10,"utc":true},"type":"temporal"},"y":{"field":"p","type":"quantitative","title":null},"text":{"field":"t"}}},
{"data":{"values":[{"t":"CASINO GUICHARD - abcbourse.com"}]},"mark":{"type":"text","color":"#858585","fontSize":12,"align":"left","baseline":"middle","font":"Liberation Sans"},
 "encoding":{"x":{"datum":{"year":2014,"month":11,"date":17,"utc":true},"type":"temporal"},"y":{"datum":97.5,"type":"quantitative"},"text":{"field":"t"}}},
{"data":{"values":[{"t":"5 ANS - HEBDO"}]},"mark":{"type":"text","color":"#858585","fontSize":12,"align":"right","baseline":"middle","font":"Liberation Sans"},
 "encoding":{"x":{"datum":{"year":2019,"month":6,"date":23,"utc":true},"type":"temporal"},"y":{"datum":97.5,"type":"quantitative"},"text":{"field":"t"}}},
{"data":{"values":[{"t":"BOLL (20, 2)"}]},"mark":{"type":"text","color":"#666666","fontSize":12,"align":"left","baseline":"middle","font":"Liberation Sans"},
 "encoding":{"x":{"datum":{"year":2014,"month":12,"date":2,"utc":true},"type":"temporal"},"y":{"datum":95.0,"type":"quantitative"},"text":{"field":"t"}}},
{"data":{"values":[{"t":"MM (20)"}]},"mark":{"type":"text","color":"#4d7fff","fontSize":12,"align":"left","baseline":"middle","font":"Liberation Sans"},
 "encoding":{"x":{"datum":{"year":2015,"month":6,"date":10,"utc":true},"type":"temporal"},"y":{"datum":95.0,"type":"quantitative"},"text":{"field":"t"}}},
{"data":{"values":[{"t":"MM (50)"}]},"mark":{"type":"text","color":"#ff2b12","fontSize":12,"align":"left","baseline":"middle","font":"Liberation Sans"},
 "encoding":{"x":{"datum":{"year":2015,"month":10,"date":21,"utc":true},"type":"temporal"},"y":{"datum":95.0,"type":"quantitative"},"text":{"field":"t"}}},
{"data":{"values":[{"t":"MM (7)"}]},"mark":{"type":"text","color":"#1d8c1d","fontSize":12,"align":"left","baseline":"middle","font":"Liberation Sans"},
 "encoding":{"x":{"datum":{"year":2016,"month":3,"date":6,"utc":true},"type":"temporal"},"y":{"datum":95.0,"type":"quantitative"},"text":{"field":"t"}}},
{"data":{"values":[{"t":"MM (100)"}]},"mark":{"type":"text","color":"#ff7a10","fontSize":12,"align":"left","baseline":"middle","font":"Liberation Sans"},
 "encoding":{"x":{"datum":{"year":2016,"month":7,"date":6,"utc":true},"type":"temporal"},"y":{"datum":95.0,"type":"quantitative"},"text":{"field":"t"}}},
{"data":{"values":[{"t":"MM (200)"}]},"mark":{"type":"text","color":"#9a1f1f","fontSize":12,"align":"left","baseline":"middle","font":"Liberation Sans"},
 "encoding":{"x":{"datum":{"year":2016,"month":12,"date":5,"utc":true},"type":"temporal"},"y":{"datum":95.0,"type":"quantitative"},"text":{"field":"t"}}},
{"data":{"values":[{"t":"MM (30)"}]},"mark":{"type":"text","color":"#ff00ff","fontSize":12,"align":"left","baseline":"middle","font":"Liberation Sans"},
 "encoding":{"x":{"datum":{"year":2017,"month":5,"date":6,"utc":true},"type":"temporal"},"y":{"datum":95.0,"type":"quantitative"},"text":{"field":"t"}}}
]
}
